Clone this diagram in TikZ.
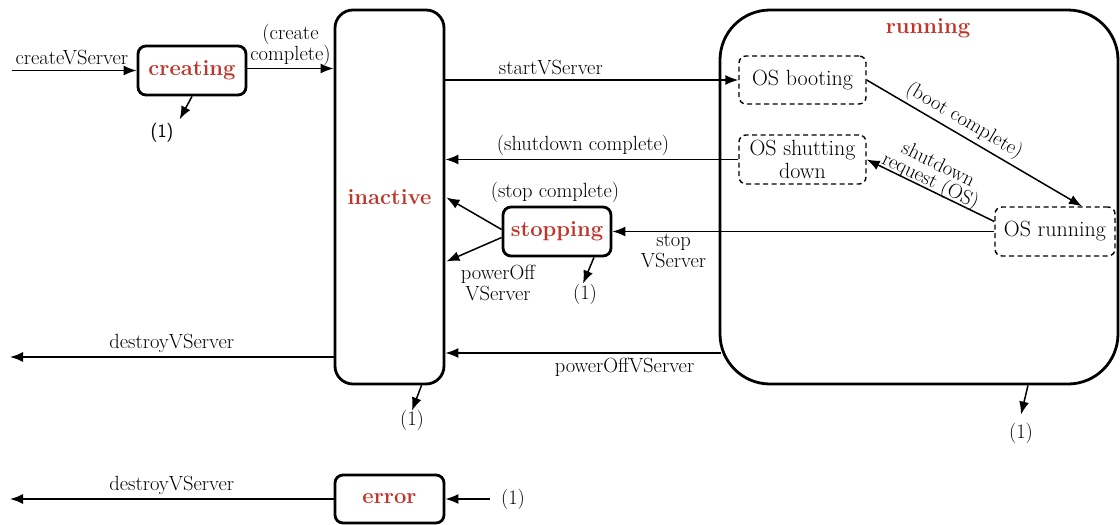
\documentclass[tikz,border=0pt]{standalone}
\usetikzlibrary{arrows.meta,calc}
\definecolor{statered}{RGB}{192,52,42}
\begin{document}
\begin{tikzpicture}[x=1pt,y=-1pt,
  state/.style={draw,line width=2.8pt,rounded corners=8pt,inner sep=0pt,
    font=\fontsize{22}{24}\selectfont\bfseries,text=statered},
  statename/.style={font=\fontsize{22}{24}\selectfont\bfseries,text=statered},
  sub/.style={draw,line width=1.4pt,dash pattern=on 5pt off 3.5pt,rounded corners=7pt,
    inner sep=0pt,align=center,font=\fontsize{22}{22.5}\selectfont},
  arr/.style={line width=1.5pt,-{Latex[length=13pt,width=10pt]}},
  rarr/.style={line width=1.5pt,{Latex[length=13pt,width=10pt]}-},
  lbl/.style={font=\fontsize{20.5}{20.5}\selectfont,align=center,inner sep=1pt},
  one/.style={font=\fontsize{20.5}{20}\selectfont,inner sep=1pt},
]
\useasboundingbox (0,0) rectangle (1120,525);

% states
\node[state,minimum width=108pt,minimum height=49pt] (creating) at (192,70.5) {creating};
\node[state,minimum width=109pt,minimum height=374pt,rounded corners=18pt] (inactive) at (389.5,197) {};
\node[statename] (inactivelbl) at (389.5,197) {inactive};
\node[state,minimum width=108pt,minimum height=49pt] (stopping) at (557,231.5) {stopping};
\node[state,minimum width=398pt,minimum height=374pt,rounded corners=50pt] (running) at (919,197) {};
\node[statename] (runninglbl) at (928,28) {running};
\node[state,minimum width=109pt,minimum height=48pt] (error) at (389.5,499) {error};

% sub-states of running
\node[sub,minimum width=127pt,minimum height=48pt] (booting) at (802.5,80) {OS booting};
\node[sub,minimum width=127pt,minimum height=49pt] (shutting) at (802.5,159.5) {OS shutting\\down};
\node[sub,minimum width=120pt,minimum height=49pt] (osrun) at (1055,231.5) {OS running};

% "(1)" markers
\node[one,font=\fontsize{19}{20}\selectfont\sffamily] (c1) at (162,133) {(1)};
\node[one] (s1) at (585,294) {(1)};
\node[one] (i1) at (412,420) {(1)};
\node[one] (r1) at (1021,433) {(1)};
\node[one] (e1) at (513,499) {(1)};

% free ends
\coordinate (createin) at (12,70.5);
\coordinate (destroy1) at (10,357);
\coordinate (destroy2) at (10,499);
\coordinate (poweroff) at (721,353);

% creating
\draw[arr] (createin) -- node[lbl,above,pos=0.48,yshift=4pt] {createVServer} (creating.west);
\draw[arr] ($(creating.east)+(0,-2)$) -- node[lbl,above,yshift=1pt,font=\fontsize{20.5}{16.5}\selectfont] {(create\\complete)} ($(creating.east -| inactive.west)+(0,-2)$);
\draw[arr] ($(creating.south)+(0,0)$) -- ($(c1.north east)+(5,-3)$);

% inactive <-> running
\draw[arr] (booting.west -| inactive.east) -- node[lbl,above,pos=0.36,yshift=3pt] {startVServer} (booting.west);
\draw[arr] (shutting.west) -- node[lbl,above,pos=0.53,yshift=2pt] {(shutdown complete)} (shutting.west -| inactive.east);
\draw[arr] (poweroff) -- node[lbl,below,pos=0.35,yshift=-3pt] {powerOffVServer} (poweroff -| inactive.east);
\draw[arr] (destroy1 -| inactive.west) -- node[lbl,above,pos=0.5,yshift=3pt] {destroyVServer} (destroy1);

% stopping
\draw[arr] (osrun.west) -- node[lbl,below,pos=0.84,yshift=-1pt] {stop\\VServer} (stopping.east);
\draw[arr] ($(stopping.west)+(0,-2)$) -- ($(stopping.west -| inactive.east)+(1,-34)$);
\draw[arr] ($(stopping.west)+(0,6)$) -- ($(stopping.west -| inactive.east)+(1,30)$);
\node[lbl] (stopcomplete) at (555,192) {(stop complete)};
\node[lbl] (poweroffv) at (498,283) {powerOff\\VServer};
\draw[arr] ($(stopping.south)+(37,0)$) -- ($(s1.north)+(-2,1)$);

% inside running
\draw[arr] (booting.east) -- node[lbl,above,sloped,pos=0.42,yshift=2pt] {(boot complete)} ($(osrun.north)+(27,0)$);
\draw[rarr] (shutting.east) -- node[lbl,above,sloped,pos=0.47,yshift=-4pt,font=\fontsize{20.5}{18}\selectfont] {shutdown\\request (OS)} ($(osrun.west)+(0,-10)$);

% "(1)" transitions
\draw[arr] ($(inactive.south)+(32,0)$) -- ($(i1.north)+(0,2)$);
\draw[arr] ($(running.south)+(109,0)$) -- ($(r1.north)+(0,-7)$);

% error
\draw[arr] (error.west) -- node[lbl,above,pos=0.5,yshift=3pt] {destroyVServer} (destroy2);
\draw[arr] ($(e1.west)+(-10,0)$) -- (error.east);
\end{tikzpicture}
\end{document}
